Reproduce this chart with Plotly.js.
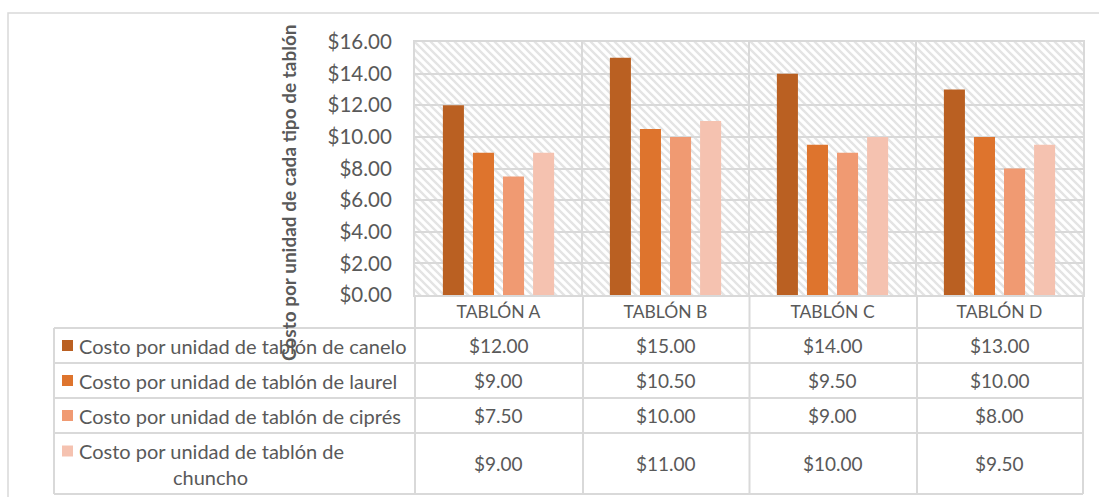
<!DOCTYPE html>
<html>
<head>
<meta charset="utf-8">
<script src="https://cdn.plot.ly/plotly-3.0.1.min.js"></script>
<style>html,body{margin:0;padding:0;background:#fff;}#chart{width:1099px;height:497px;}</style>
</head>
<body>
<div id="chart"></div>
<script>
// ---- data ----
const categories = ['TABLÓN A', 'TABLÓN B', 'TABLÓN C', 'TABLÓN D'];
const seriesNames = [
  'Costo por unidad de tablón de canelo',
  'Costo por unidad de tablón de laurel',
  'Costo por unidad de tablón de ciprés',
  'Costo por unidad de tablón de chuncho'
];
const canelo  = [12.00, 15.00, 14.00, 13.00];
const laurel  = [9.00, 10.50, 9.50, 10.00];
const cipres  = [7.50, 10.00, 9.00, 8.00];
const chuncho = [9.00, 11.00, 10.00, 9.50];
const yAxisTitle = 'Costo por unidad de cada tipo de tablón';

// ---- styling ----
const seriesValues = [canelo, laurel, cipres, chuncho];
const colors = ['#BA6022', '#DE742D', '#F09A72', '#F5C2B0'];
const textColor = '#595959';
const lineColor = '#D9D9D9';
const FONT = 'Lato, "Open Sans", sans-serif';

const W = 1099, H = 497;
const L = 415, R = 1083, T = 42, B = 295;
const px2x = p => (p - L) / (R - L);
const py2y = p => (B - p) / (B - T);

const traces = seriesValues.map((vals, i) => ({
  type: 'bar',
  x: categories,
  y: vals,
  name: seriesNames[i],
  marker: {color: colors[i]},
  hoverinfo: 'y'
}));

// table geometry (pixels)
const tableLeft = 54;
const rowLines = [328, 363, 398, 433, 494];
const rowCenters = [345.5, 380.5, 415.5, 463.5];
const colLines = [415, 583, 749.5, 917, 1083];

const shapes = [];
const line = (x0, y0, x1, y1, w) => shapes.push({
  type: 'line', xref: 'paper', yref: 'paper',
  x0: px2x(x0), x1: px2x(x1), y0: py2y(y0), y1: py2y(y1),
  line: {color: lineColor, width: w || 2}
});
// outer chart border
shapes.push({type: 'rect', xref: 'paper', yref: 'paper',
  x0: px2x(8), x1: px2x(1110), y0: py2y(13), y1: py2y(510),
  line: {color: lineColor, width: 1.5}, fillcolor: 'rgba(0,0,0,0)'});
// horizontal table lines
rowLines.forEach(y => line(tableLeft, y, R, y));
// vertical table lines
line(tableLeft, rowLines[0], tableLeft, rowLines[rowLines.length - 1]);
colLines.forEach(x => line(x, B, x, rowLines[rowLines.length - 1]));

const annotations = [];
const legendFont = {family: FONT, size: 20, color: textColor};
const valueFont = {family: FONT, size: 19, color: textColor};
// legend keys + names
seriesNames.forEach((name, i) => {
  const last = i === seriesNames.length - 1;
  const cy = last ? 451 : rowCenters[i];
  shapes.push({type: 'rect', xref: 'paper', yref: 'paper',
    x0: px2x(62), x1: px2x(73), y0: py2y(cy - 5.5), y1: py2y(cy + 5.5),
    line: {width: 0}, fillcolor: colors[i]});
  if (!last) {
    annotations.push({xref: 'paper', yref: 'paper', x: px2x(77), y: py2y(cy),
      xanchor: 'left', yanchor: 'middle', showarrow: false, text: name, font: legendFont});
  } else {
    const words = name.split(' ');
    const lastWord = words.pop();
    annotations.push({xref: 'paper', yref: 'paper', x: px2x(77), y: py2y(451),
      xanchor: 'left', yanchor: 'middle', showarrow: false, text: words.join(' '), font: legendFont});
    annotations.push({xref: 'paper', yref: 'paper', x: px2x(210), y: py2y(477),
      xanchor: 'center', yanchor: 'middle', showarrow: false, text: lastWord, font: legendFont});
  }
  // values
  seriesValues[i].forEach((v, j) => {
    annotations.push({xref: 'x', yref: 'paper', x: categories[j], y: py2y(rowCenters[i]),
      xanchor: 'center', yanchor: 'middle', showarrow: false, text: '$' + v.toFixed(2), font: valueFont});
  });
});
// y axis title
annotations.push({xref: 'paper', yref: 'paper', x: px2x(288), y: py2y(193),
  xanchor: 'center', yanchor: 'middle', showarrow: false, textangle: -90,
  text: '<b>' + yAxisTitle + '</b>',
  font: {family: FONT, size: 19, color: textColor}});

// hatch pattern background for plot area
const svg = `<svg xmlns="http://www.w3.org/2000/svg" width="${R - L}" height="${B - T}">` +
  `<defs><pattern id="p" width="8" height="8" patternUnits="userSpaceOnUse">` +
  `<path d="M-2,-2 L10,10 M-2,6 L2,10 M6,-2 L10,2" stroke="#E4E4E4" stroke-width="2.4"/>` +
  `</pattern></defs><rect width="100%" height="100%" fill="url(#p)"/></svg>`;
const hatch = 'data:image/svg+xml;charset=utf-8,' + encodeURIComponent(svg);

const layout = {
  width: W, height: H,
  margin: {l: L, r: W - R, t: T, b: H - B, pad: 0},
  paper_bgcolor: '#FFFFFF',
  plot_bgcolor: 'rgba(0,0,0,0)',
  showlegend: false,
  barmode: 'group',
  bargap: 0.28,
  bargroupgap: 0.3,
  font: {family: FONT, color: textColor},
  xaxis: {
    type: 'category',
    tickson: 'boundaries',
    showgrid: true, gridcolor: lineColor, gridwidth: 2,
    showline: true, linecolor: lineColor, linewidth: 2, mirror: true,
    ticks: 'outside', ticklen: 4, tickcolor: 'rgba(0,0,0,0)',
    tickfont: {family: FONT, size: 17.5, color: textColor},
    fixedrange: true
  },
  yaxis: {
    range: [0, 16], dtick: 2, tick0: 0,
    tickprefix: '$', tickformat: '.2f',
    showgrid: true, gridcolor: lineColor, gridwidth: 2,
    zeroline: false,
    showline: true, linecolor: lineColor, linewidth: 2, mirror: true,
    ticks: 'outside', ticklen: 17, tickcolor: 'rgba(0,0,0,0)',
    tickfont: {family: FONT, size: 20.5, color: textColor},
    fixedrange: true
  },
  images: [{source: hatch, xref: 'paper', yref: 'paper', x: 0, y: 1,
    sizex: 1, sizey: 1, xanchor: 'left', yanchor: 'top', sizing: 'stretch', layer: 'below'}],
  shapes: shapes,
  annotations: annotations
};

Plotly.newPlot('chart', traces, layout, {displayModeBar: false, staticPlot: true});
</script>
</body>
</html>
